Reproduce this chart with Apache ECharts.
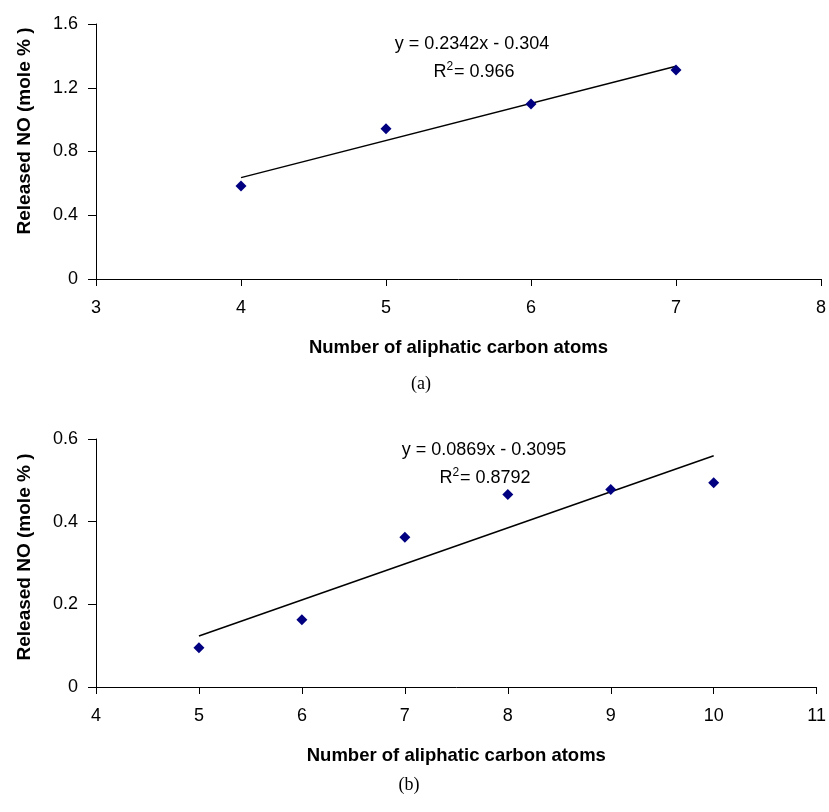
<!DOCTYPE html>
<html>
<head>
<meta charset="utf-8">
<script src="https://cdn.jsdelivr.net/npm/echarts@6/dist/echarts.min.js"></script>
<style>
  html, body { margin: 0; padding: 0; background: #fff; }
  #chart { width: 829px; height: 812px; }
</style>
</head>
<body>
<div id="chart"></div>
<script>
// (a) points and fitted line
const carbonsA = [4, 5, 6, 7];
const releasedA = [0.583, 0.942, 1.098, 1.311];
const trendA = [[4, 0.636], [7, 1.335]];
const equationA = 'y = 0.2342x - 0.304';
const r2A = '0.966';

// (b)
const carbonsB = [5, 6, 7, 8, 9, 10];
const releasedB = [0.095, 0.163, 0.362, 0.466, 0.478, 0.494];
const trendB = [[5, 0.1235], [10, 0.5595]];
const equationB = 'y = 0.0869x - 0.3095';
const r2B = '0.8792';

const yName = 'Released NO (mole % )';
const xName = 'Number of aliphatic carbon atoms';

const sans = 'Liberation Sans, Arial, sans-serif';
const serif = 'Liberation Serif, Times New Roman, serif';
const navy = '#000080';

function xAxisCfg(idx, min, max) {
    return {
        type: 'value', gridIndex: idx, min: min, max: max, interval: 1,
        name: xName, nameLocation: 'middle', nameGap: 59,
        nameTextStyle: { fontFamily: sans, fontWeight: 'bold', fontSize: 18.5, color: '#000' },
        axisLine: { onZero: false, lineStyle: { color: '#000', width: 1 } },
        axisTick: { show: true, length: 7, lineStyle: { color: '#000' } },
        axisLabel: { color: '#000', fontFamily: sans, fontSize: 18, margin: 20 },
        splitLine: { show: false }
    };
}

function yAxisCfg(idx, max, step) {
    return {
        type: 'value', gridIndex: idx, min: 0, max: max, interval: step,
        axisLine: { show: true, lineStyle: { color: '#000', width: 1 } },
        axisTick: { show: true, length: 8, lineStyle: { color: '#000' } },
        axisLabel: { color: '#000', fontFamily: sans, fontSize: 18, margin: 18 },
        splitLine: { show: false }
    };
}

function plainText(x, y, text, font) {
    return {
        type: 'text', x: x, y: y, style: {
            text: text, fill: '#000', font: font, align: 'center', verticalAlign: 'middle'
        }
    };
}

function r2Text(x, y, r2) {
    return {
        type: 'text', x: x, y: y, style: {
            text: '{a|R}{s|2}{a|= ' + r2 + '}', align: 'center', verticalAlign: 'middle',
            rich: {
                a: { fontSize: 18, fontFamily: sans, color: '#000' },
                s: { fontSize: 12, fontFamily: sans, color: '#000', padding: [0, 1, 10, 0] }
            }
        }
    };
}

function yNameText(x, y) {
    return {
        type: 'text', x: x, y: y, rotation: Math.PI / 2, style: {
            text: yName, fill: '#000', font: 'bold 19px ' + sans, align: 'center', verticalAlign: 'middle'
        }
    };
}

const chart = echarts.init(document.getElementById('chart'));
chart.setOption({
    backgroundColor: '#ffffff',
    animation: false,
    grid: [
        { left: 96, width: 725, top: 24, height: 255 },
        { left: 96, width: 723, top: 439, height: 248 }
    ],
    xAxis: [xAxisCfg(0, 3, 8), xAxisCfg(1, 4, 11)],
    yAxis: [yAxisCfg(0, 1.6, 0.4), yAxisCfg(1, 0.6, 0.2)],
    series: [
        {
            type: 'scatter', xAxisIndex: 0, yAxisIndex: 0,
            data: carbonsA.map((c, i) => [c, releasedA[i]]),
            symbol: 'diamond', symbolSize: 11, itemStyle: { color: navy, opacity: 1 }, z: 3
        },
        {
            type: 'line', xAxisIndex: 0, yAxisIndex: 0, data: trendA,
            showSymbol: false, lineStyle: { color: '#000', width: 1.5 }, z: 2
        },
        {
            type: 'scatter', xAxisIndex: 1, yAxisIndex: 1,
            data: carbonsB.map((c, i) => [c, releasedB[i]]),
            symbol: 'diamond', symbolSize: 11, itemStyle: { color: navy, opacity: 1 }, z: 3
        },
        {
            type: 'line', xAxisIndex: 1, yAxisIndex: 1, data: trendB,
            showSymbol: false, lineStyle: { color: '#000', width: 1.5 }, z: 2
        }
    ],
    graphic: [
        yNameText(25, 131),
        yNameText(25, 557),
        plainText(472, 44, equationA, '18px ' + sans),
        r2Text(474, 72, r2A),
        plainText(484, 450, equationB, '18px ' + sans),
        r2Text(485, 478, r2B),
        plainText(421, 384, '(a)', '18px ' + serif),
        plainText(409, 785, '(b)', '18px ' + serif)
    ]
});
</script>
</body>
</html>
